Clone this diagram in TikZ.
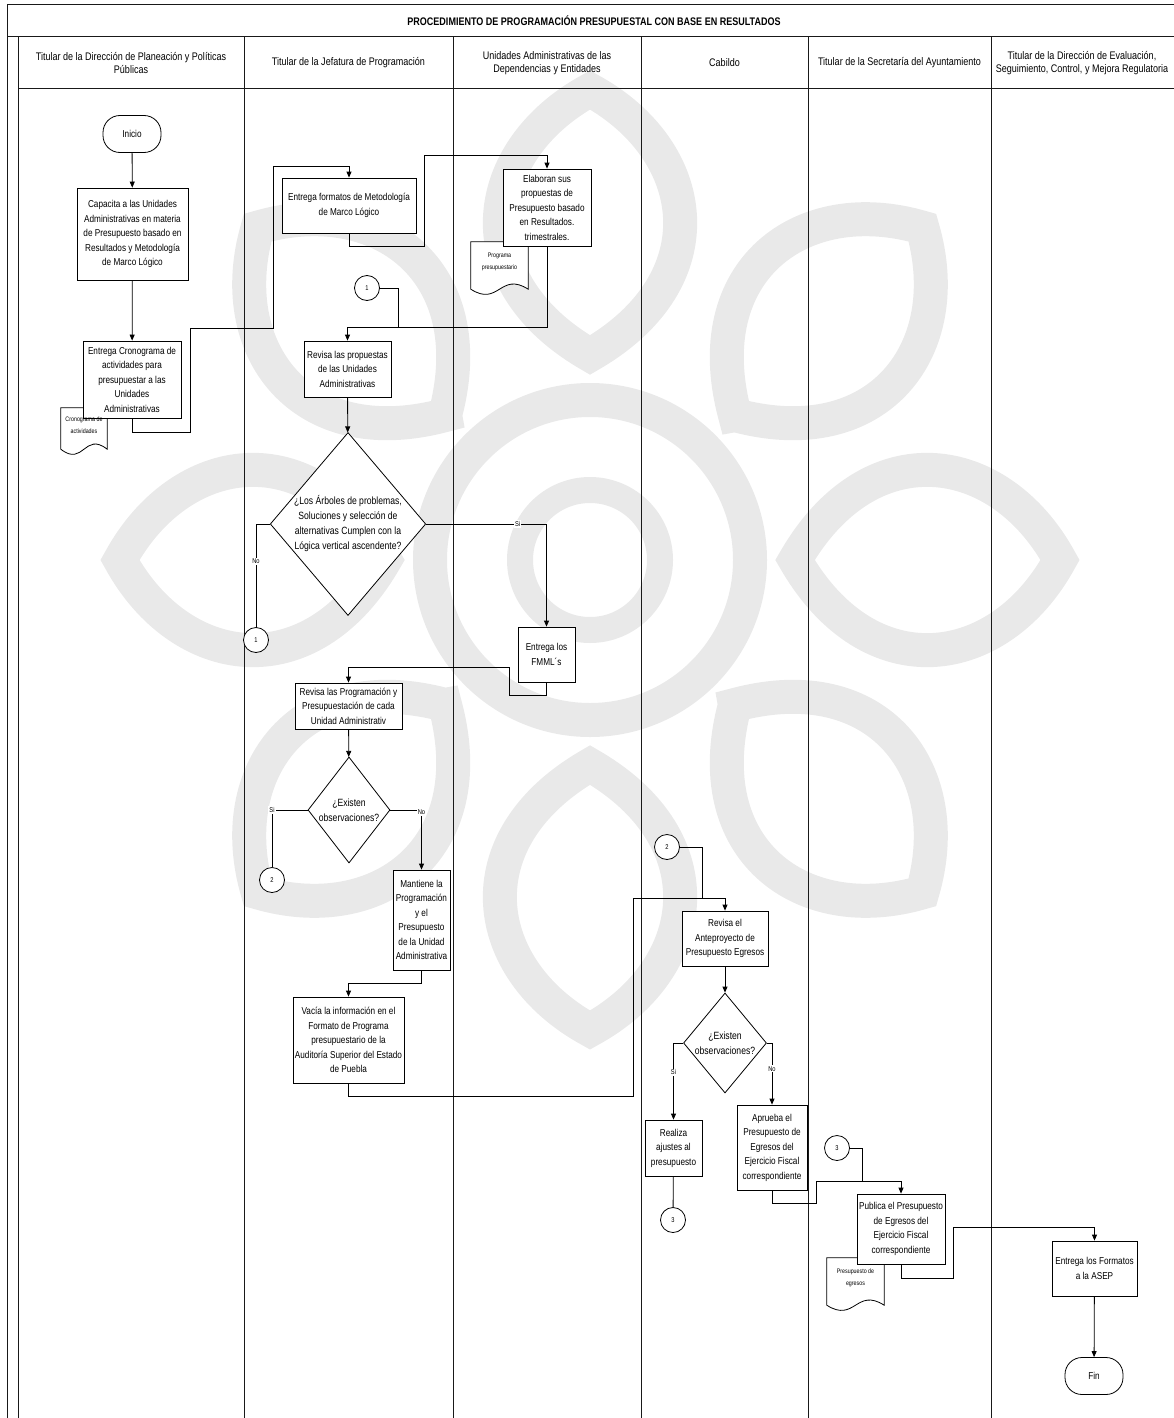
\documentclass[tikz,border=0pt]{standalone}
\usepackage{fontspec}
\setmainfont[FakeStretch=0.82]{Liberation Sans}
\usetikzlibrary{arrows.meta,shapes.geometric}
\definecolor{wm}{HTML}{E9E9E9}
\pgfdeclarelayer{bg}
\pgfsetlayers{bg,main}

\begin{document}
\begin{tikzpicture}[x=1pt,y=-1pt,
 font=\fontsize{10}{14.5}\selectfont,
 lane/.style={line width=1pt,draw=black!90},
 head/.style={align=center,font=\fontsize{11}{13.5}\selectfont},
 wh/.style 2 args={minimum width=#1pt,minimum height=#2pt},
 proc/.style={draw,fill=white,align=center,inner sep=2pt,line width=0.8pt},
 term/.style={draw,fill=white,rounded corners=17pt,minimum width=58pt,minimum height=37pt,line width=0.8pt},
 dec/.style={diamond,draw,fill=white,align=center,inner sep=0pt,aspect=0.85,line width=0.8pt,
 font=\fontsize{10.5}{15}\selectfont},
 conn/.style={circle,draw,fill=white,minimum size=25pt,inner sep=0pt,font=\fontsize{7}{8}\selectfont,line width=0.8pt},
 doct/.style={align=center,inner sep=0pt,minimum width=57pt,font=\fontsize{6.5}{12}\selectfont},
 docl/.style={draw,fill=white,line width=0.8pt},
 lbl/.style={fill=white,inner sep=1pt,font=\fontsize{7}{8}\selectfont},
 flow/.style={-{Triangle[length=6pt,width=5pt]},line width=0.8pt},
 lnk/.style={line width=0.8pt},
 wmk/.style={draw=wm,line width=34pt}]
 \useasboundingbox (0,0) rectangle (1174,1418);

 % watermark
 \begin{pgfonlayer}{bg}
 \draw[wmk] (590,560) circle[radius=160];
 \draw[wmk,line width=26pt] (590,560) circle[radius=70];
 \foreach \a in {0,45,...,315}
 \draw[wmk,rotate around={\a:(590,560)}] (795,560) .. controls (870,430) and (1000,450) .. (1060,560)
 .. controls (1000,670) and (870,690) .. cycle;
 \end{pgfonlayer}

 % frame and lanes
 \draw[lane] (1180,5) -- (7.5,5) -- (7.5,1425);
 \draw[lane] (1180,37) -- (7.5,37);
 \draw[lane] (1180,89) -- (18,89);
 \draw[lane] (18,37) -- (18,1425);
 \draw[lane] (244,37) -- (244,1425) (453,37) -- (453,1425) (641,37) -- (641,1425)
 (808,37) -- (808,1425) (991,37) -- (991,1425);

 \node[font=\fontsize{11}{13}\selectfont\bfseries] (ttl) at (594,21) {PROCEDIMIENTO DE PROGRAMACIÓN PRESUPUESTAL CON BASE EN RESULTADOS};
 \node[head] (h1) at (131,63) {Titular de la Dirección de Planeación y Políticas\\Públicas};
 \node[head] (h2) at (348.5,63) {Titular de la Jefatura de Programación};
 \node[head] (h3) at (547,63) {Unidades Administrativas de las\\Dependencias y Entidades};
 \node[head] (h4) at (724.5,63) {Cabildo};
 \node[head] (h5) at (899.5,63) {Titular de la Secretaría del Ayuntamiento};
 \node[head] (h6) at (1082,63) {Titular de la Dirección de Evaluación,\\Seguimiento, Control, y Mejora Regulatoria};

 % steps
 \node[term] (ini) at (132,134) {Inicio};
 \node[proc,wh={111}{92}] (cap) at (132.5,234) {Capacita a las Unidades\\Administrativas en materia\\de Presupuesto basado en\\Resultados y Metodología\\de Marco Lógico};
 \node[proc,wh={98}{77}] (cron) at (132,379.5) {Entrega Cronograma de\\actividades para\\presupuestar a las\\Unidades\\Administrativas};
 \node[proc,wh={134}{55}] (fmt) at (349,205.5) {Entrega formatos de Metodología\\de Marco Lógico};
 \node[proc,wh={88}{77}] (elab) at (547,207.5) {Elaboran sus\\propuestas de\\Presupuesto basado\\en Resultados.\\trimestrales.};
 \node[proc,wh={87}{56}] (revp) at (347.5,369) {Revisa las propuestas\\de las Unidades\\Administrativas};
 \node[dec,minimum width=155pt,minimum height=182pt] (d1) at (348,524) {¿Los Árboles de problemas,\\Soluciones y selección de\\alternativas Cumplen con la\\Lógica vertical ascendente?};
 \node[proc,wh={57}{55}] (fmml) at (546.5,654.5) {Entrega los\\FMML´s};
 \node[proc,wh={107}{46}] (revg) at (348.5,706) {Revisa las Programación y\\Presupuestación de cada\\Unidad Administrativ};
 \node[dec,minimum width=82pt,minimum height=106pt] (d2) at (349,810) {¿Existen\\observaciones?};
 \node[proc,wh={57}{100}] (mant) at (421.5,920) {Mantiene la\\Programación\\y el\\Presupuesto\\de la Unidad\\Administrativa};
 \node[proc,wh={109}{86}] (vac) at (348.5,1040) {Vacía la información en el\\Formato de Programa\\presupuestario de la\\Auditoría Superior del Estado\\de Puebla};
 \node[proc,wh={86}{55}] (revc) at (725,938.5) {Revisa el\\Anteproyecto de\\Presupuesto Egresos};
 \node[dec,minimum width=83pt,minimum height=100pt] (d3) at (725,1043) {¿Existen\\observaciones?};
 \node[proc,wh={57}{56}] (real) at (673.5,1148) {Realiza\\ajustes al\\presupuesto};
 \node[proc,wh={70}{85}] (apr) at (772,1147.5) {Aprueba el\\Presupuesto de\\Egresos del\\Ejercicio Fiscal\\correspondiente};
 \node[proc,wh={86}{70}] (pub) at (901,1229) {Publica el Presupuesto\\de Egresos del\\Ejercicio Fiscal\\correspondiente};
 \node[proc,wh={85}{55}] (asep) at (1094.5,1268.5) {Entrega los Formatos\\a la ASEP};
 \node[term] (fin) at (1094,1376) {Fin};

 % off-page connectors
 \node[conn] (c1a) at (367,288) {1};
 \node[conn] (c1b) at (256,640) {1};
 \node[conn] (c2a) at (272,880) {2};
 \node[conn] (c2b) at (667,847) {2};
 \node[conn] (c3a) at (673,1220) {3};
 \node[conn] (c3b) at (837,1148) {3};
 \coordinate (j1) at (398,327);
 \coordinate (j2) at (702,898);
 \coordinate (j3) at (862,1181);

 % flow
 \draw[flow] (ini) -- (cap);
 \draw[flow] (cap) -- (cron);
 \draw[flow] (cron.south) -- ++(0,14) -| (190,328) -| (273,166) -| (fmt.north);
 \draw[flow] (fmt.south) -- ++(0,13) -| (424,155) -| (elab.north);
 \draw[flow] (elab.south) -- ++(0,81) -| (revp.north);
 \draw[lnk] (c1a.east) -| (j1);
 \draw[flow] (revp) -- (d1);
 \draw[lnk] (d1.west) -| node[lbl,pos=0.68] {No} (c1b.north);
 \draw[flow] (d1.east) -| node[lbl,pos=0.38] {Si} (fmml.north);
 \draw[flow] (fmml.south) -- ++(0,13) -| (509,667) -| (revg.north);
 \draw[flow] (revg) -- (d2);
 \draw[lnk] (d2.west) -| node[lbl,pos=0.5] {Si} (c2a.north);
 \draw[flow] (d2.east) -| node[lbl,pos=0.52] {No} (mant.north);
 \draw[flow] (mant.south) -- ++(0,13) -| (vac.north);
 \draw[flow] (vac.south) -- ++(0,13) -| (633,898) -| (revc.north);
 \draw[lnk] (c2b.east) -| (j2);
 \draw[flow] (revc) -- (d3);
 \draw[flow] (d3.west) -| node[lbl,pos=0.69] {Si} (real.north);
 \draw[flow] (d3.east) -| node[lbl,pos=0.71] {No} (apr.north);
 \draw[lnk] (real) -- (c3a);
 \draw[flow] (apr.south) -- ++(0,13) -| (816,1181) -| (pub.north);
 \draw[lnk] (c3b.east) -| (j3);
 \draw[flow] (pub.south) -- ++(0,14) -| (953,1227) -| (asep.north);
 \draw[flow] (asep) -- (fin);

 % documents
 \node[doct,minimum width=46pt,minimum height=34pt] (docA) at (84,425) {Cronograma de\\actividades};
 \node[doct,minimum height=40pt] (docB) at (499.5,262) {Programa\\presupuestario};
 \node[doct,minimum height=40pt] (docC) at (855.5,1278) {Presupuesto de\\egresos};
 \begin{pgfonlayer}{bg}
 \draw[docl] (docA.north west) -- (docA.north east) -- ([yshift=-7pt]docA.south east)
 .. controls +(-23,-18) and +(23,18) .. ([yshift=-7pt]docA.south west) -- cycle;
 \draw[docl] (docB.north west) -- (docB.north east) -- ([yshift=-7pt]docB.south east)
 .. controls +(-28,-18) and +(28,18) .. ([yshift=-7pt]docB.south west) -- cycle;
 \draw[docl] (docC.north west) -- (docC.north east) -- ([yshift=-7pt]docC.south east)
 .. controls +(-28,-18) and +(28,18) .. ([yshift=-7pt]docC.south west) -- cycle;
 \end{pgfonlayer}
\end{tikzpicture}
\end{document}
